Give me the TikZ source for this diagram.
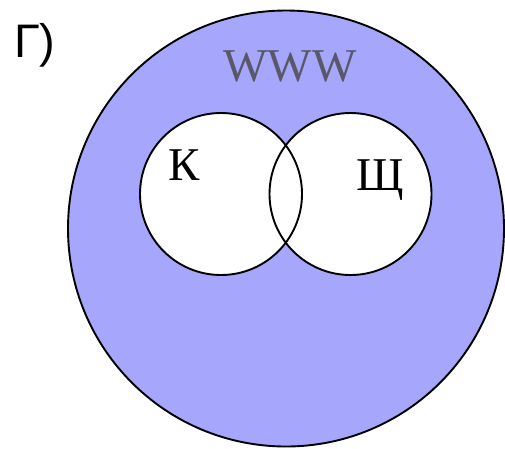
\documentclass[tikz,border=0pt]{standalone}
\usepackage{fontspec}
\newfontfamily\labelserif{Liberation Serif}
\newfontfamily\labelsans{Liberation Sans}
\usepackage{xcolor}
\definecolor{setFill}{RGB}{166,166,252}
\definecolor{webText}{RGB}{88,88,104}
\tikzset{
    x=1pt,y=-1pt,
    outer/.style={circle,draw=black,line width=1.9pt,fill=setFill,minimum size=436pt,inner sep=0pt},
    hole/.style={circle,fill=white,minimum size=162pt,inner sep=0pt},
    ring/.style={circle,draw=black,line width=1.9pt,minimum size=162pt,inner sep=0pt},
    setlbl/.style={font=\labelserif\fontsize{47}{47}\selectfont,inner sep=0pt,anchor=base}
}
\begin{document}
\begin{tikzpicture}
    \useasboundingbox (0,0) rectangle (505,448);
    \node[outer] (www) at (286,228.5) {};
    \node[hole] (kHole) at (221,194) {};
    \node[hole] (shHole) at (350.5,194) {};
    \node[ring] (kRing) at (kHole) {};
    \node[ring] (shRing) at (shHole) {};

    \node[inner sep=0pt,anchor=base west,font=\labelsans\fontsize{47}{47}\selectfont] (part) at (14,57) {Г)};
    \node[setlbl,text=webText] (wwwLbl) at (290,81) {WWW};
    % shadow-free labels in the white holes
    \node[setlbl] (kLbl) at (184,180) {К};
    \node[setlbl] (shLbl) at (380,190) {Щ};
\end{tikzpicture}
\end{document}
